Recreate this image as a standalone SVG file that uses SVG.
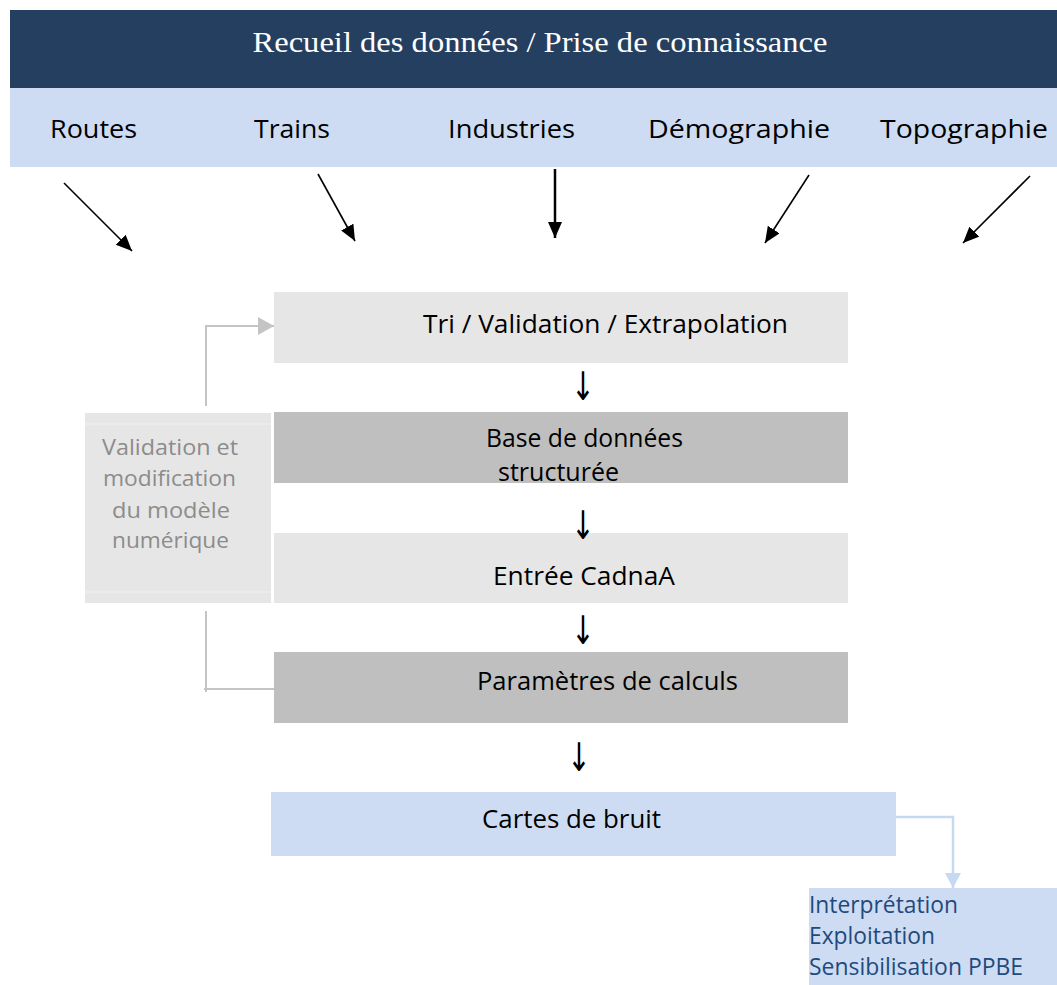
<svg xmlns="http://www.w3.org/2000/svg" width="1057" height="985" viewBox="0 0 1057 985">
<style>
.lbl{font-family:"Open Sans","Liberation Sans",sans-serif;fill:#000;}
.grey{font-family:"Open Sans","Liberation Sans",sans-serif;fill:#8c8c8c;font-size:22px;}
.blue{font-family:"Open Sans","Liberation Sans",sans-serif;fill:#1f4a7c;font-size:23px;}
.dn{font-family:"DejaVu Sans",sans-serif;font-size:28px;fill:#000;}
.lg{fill:#e6e6e6;}
.dg{fill:#bfbfbf;}
.lb{fill:#cddcf3;}
</style>
<defs>
<marker id="ah" markerUnits="userSpaceOnUse" markerWidth="20" markerHeight="20" refX="16" refY="7" orient="auto">
<path d="M0,0 L16,7 L0,14 Z" fill="#000"/>
</marker>
<marker id="ahg" markerUnits="userSpaceOnUse" markerWidth="20" markerHeight="20" refX="16" refY="9" orient="auto">
<path d="M0,0 L16,9 L0,18 Z" fill="#c4c4c4"/>
</marker>
<marker id="ahb" markerUnits="userSpaceOnUse" markerWidth="20" markerHeight="20" refX="15" refY="8" orient="auto">
<path d="M0,0 L15,8 L0,16 Z" fill="#c6d9f1"/>
</marker>
</defs>
<rect width="1057" height="985" fill="#fff"/>

<g id="header">
<rect x="10" y="10" width="1047" height="78" fill="#243f60"/>
<text x="540" y="52" text-anchor="middle" font-family="Liberation Serif,serif" font-size="30" fill="#fff" textLength="575" lengthAdjust="spacingAndGlyphs">Recueil des données / Prise de connaissance</text>
</g>
<g id="sources">
<rect x="10" y="88" width="1047" height="79" class="lb"/>
<text class="lbl" font-size="26" x="50" y="138" textLength="87" lengthAdjust="spacingAndGlyphs">Routes</text>
<text class="lbl" font-size="26" x="254" y="138" textLength="76" lengthAdjust="spacingAndGlyphs">Trains</text>
<text class="lbl" font-size="26" x="448" y="138" textLength="127" lengthAdjust="spacingAndGlyphs">Industries</text>
<text class="lbl" font-size="26" x="648" y="138" textLength="182" lengthAdjust="spacingAndGlyphs">Démographie</text>
<text class="lbl" font-size="26" x="880" y="138" textLength="168" lengthAdjust="spacingAndGlyphs">Topographie</text>
</g>

<g id="connectors">
<line x1="64" y1="183" x2="132" y2="251" stroke="#000" stroke-width="1.6" marker-end="url(#ah)"/>
<line x1="318" y1="174" x2="355" y2="241" stroke="#000" stroke-width="1.6" marker-end="url(#ah)"/>
<line x1="555" y1="169" x2="555" y2="238" stroke="#000" stroke-width="2.5" marker-end="url(#ah)"/>
<line x1="809" y1="175" x2="765" y2="243" stroke="#000" stroke-width="1.6" marker-end="url(#ah)"/>
<line x1="1030" y1="176" x2="963" y2="243" stroke="#000" stroke-width="1.6" marker-end="url(#ah)"/>
<polyline points="206,406 206,326 274,326" fill="none" stroke="#c4c4c4" stroke-width="2" marker-end="url(#ahg)"/>
<polyline points="206,611 206,692" fill="none" stroke="#c4c4c4" stroke-width="2"/>
<line x1="204" y1="689" x2="274" y2="689" stroke="#c4c4c4" stroke-width="2"/>
<polyline points="896,817 953,817 953,888" fill="none" stroke="#c6d9f1" stroke-width="2.5" marker-end="url(#ahb)"/>
</g>

<g id="tri">
<rect x="274" y="292" width="574" height="71" class="lg"/>
<text class="lbl" font-size="26" x="423" y="333" textLength="365" lengthAdjust="spacingAndGlyphs">Tri / Validation / Extrapolation</text>
</g>
<g id="base">
<rect x="274" y="412" width="574" height="71" class="dg"/>
<text class="lbl" font-size="26" x="486" y="447" textLength="197" lengthAdjust="spacingAndGlyphs">Base de données</text>
<text class="lbl" font-size="26" x="498" y="481" textLength="121" lengthAdjust="spacingAndGlyphs">structurée</text>
</g>
<g id="entree">
<rect x="274" y="533" width="574" height="70" class="lg"/>
<text class="lbl" font-size="26" x="493" y="585" textLength="182" lengthAdjust="spacingAndGlyphs">Entrée CadnaA</text>
</g>
<g id="parametres">
<rect x="274" y="652" width="574" height="71" class="dg"/>
<text class="lbl" font-size="26" x="477" y="690" textLength="261" lengthAdjust="spacingAndGlyphs">Paramètres de calculs</text>
</g>
<g id="cartes">
<rect x="271" y="792" width="625" height="64" class="lb"/>
<text class="lbl" font-size="25" x="482" y="828" textLength="179" lengthAdjust="spacingAndGlyphs">Cartes de bruit</text>
</g>
<g id="validation">
<rect x="85" y="413" width="186" height="190" class="lg"/>
<line x1="85" y1="424" x2="271" y2="424" stroke="#f2f2f2" stroke-width="1"/>
<line x1="85" y1="592" x2="271" y2="592" stroke="#f2f2f2" stroke-width="1"/>
<text class="grey" x="102" y="455" textLength="136" lengthAdjust="spacingAndGlyphs">Validation et</text>
<text class="grey" x="103" y="486" textLength="133" lengthAdjust="spacingAndGlyphs">modification</text>
<text class="grey" x="112" y="518" textLength="118" lengthAdjust="spacingAndGlyphs">du modèle</text>
<text class="grey" x="112" y="548" textLength="117" lengthAdjust="spacingAndGlyphs">numérique</text>
</g>
<g id="interpretation">
<rect x="809" y="888" width="248" height="97" class="lb"/>
<text class="blue" x="809" y="913" textLength="149" lengthAdjust="spacingAndGlyphs">Interprétation</text>
<text class="blue" x="809" y="944" textLength="126" lengthAdjust="spacingAndGlyphs">Exploitation</text>
<text class="blue" x="809" y="975" textLength="214" lengthAdjust="spacingAndGlyphs">Sensibilisation PPBE</text>
</g>
<g id="flow-arrows">
<text class="dn" transform="translate(583,400) scale(1,1.4)" text-anchor="middle">↓</text>
<text class="dn" transform="translate(583,539) scale(1,1.4)" text-anchor="middle">↓</text>
<text class="dn" transform="translate(583,644) scale(1,1.4)" text-anchor="middle">↓</text>
<text class="dn" transform="translate(579,771) scale(1,1.4)" text-anchor="middle">↓</text>
</g>
</svg>
